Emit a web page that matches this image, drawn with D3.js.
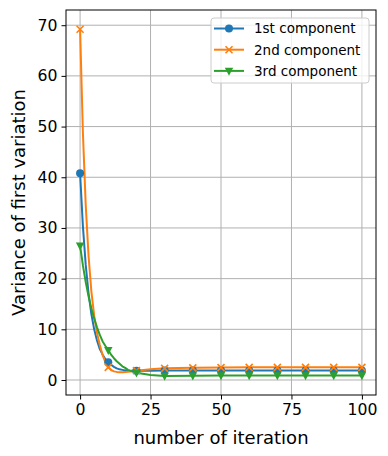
<!DOCTYPE html>
<html>
<head>
<meta charset="utf-8">
<script src="https://cdn.jsdelivr.net/npm/d3@7"></script>
<style>
  body { margin: 0; background: #fff; }
  text { font-family: "DejaVu Sans", sans-serif; fill: #000; }
</style>
</head>
<body>
<svg id="chart" width="388" height="456"></svg>
<script>
// DATA
const iterations = [0, 1, 2, 3, 4, 5, 6, 7, 8, 9, 10, 11, 12, 13, 14, 15, 16, 17, 18, 19, 20, 25, 30, 40, 50, 60, 70, 80, 90, 100];
const first = [40.8, 30.3, 22.7, 17.1, 13.0, 10.0, 7.8, 6.1, 5.0, 4.1, 3.5, 3.0, 2.6, 2.3, 2.1, 2.0, 1.9, 1.85, 1.8, 1.8, 1.8, 1.8, 1.85, 1.85, 1.85, 1.85, 1.85, 1.85, 1.85, 1.85];
const second = [69.2, 48.8, 34.5, 24.5, 17.5, 12.7, 9.3, 6.9, 4.9, 3.5, 2.5, 2.0, 1.7, 1.6, 1.55, 1.55, 1.6, 1.65, 1.7, 1.75, 1.85, 2.1, 2.3, 2.4, 2.45, 2.5, 2.5, 2.5, 2.5, 2.5];
const third = [26.5, 22.6, 19.3, 16.5, 14.1, 12.1, 10.4, 8.9, 7.6, 6.7, 5.9, 5.0, 4.3, 3.7, 3.2, 2.7, 2.4, 2.0, 1.8, 1.6, 1.45, 1.0, 0.8, 0.85, 0.9, 0.9, 0.9, 0.9, 0.9, 0.9];
const seriesNames = ["1st component", "2nd component", "3rd component"];
const xTicks = [0, 25, 50, 75, 100];
const yTicks = [0, 10, 20, 30, 40, 50, 60, 70];

// CANVAS SETUP
const svg = d3.select("#chart");
const margin = { top: 10, right: 12, bottom: 61, left: 66 },
  width = 388 - margin.left - margin.right,
  height = 456 - margin.top - margin.bottom;

const colors = ["#1f77b4", "#ff7f0e", "#2ca02c"];
const markers = ["circle", "x", "tri"];

const series = [first, second, third].map((vals, k) => ({
  name: seriesNames[k],
  color: colors[k],
  marker: markers[k],
  points: iterations.map((it, i) => ({ x: it, y: vals[i] })),
}));

const xScale = d3.scaleLinear().domain([-5, 105]).range([0, width]);
const yScale = d3.scaleLinear().domain([-2.96, 73]).range([height, 0]);

const g = svg.append("g").attr("transform", `translate(${margin.left},${margin.top})`);

// GRID
g.append("g")
  .selectAll("line")
  .data(xTicks)
  .join("line")
  .attr("x1", (d) => xScale(d))
  .attr("x2", (d) => xScale(d))
  .attr("y1", 0)
  .attr("y2", height)
  .attr("stroke", "#b0b0b0")
  .attr("stroke-width", 1);

g.append("g")
  .selectAll("line")
  .data(yTicks)
  .join("line")
  .attr("x1", 0)
  .attr("x2", width)
  .attr("y1", (d) => yScale(d))
  .attr("y2", (d) => yScale(d))
  .attr("stroke", "#b0b0b0")
  .attr("stroke-width", 1);

// AXES
const xAxis = g.append("g")
  .attr("transform", `translate(0,${height})`)
  .call(d3.axisBottom(xScale).tickValues(xTicks).tickSize(4.5).tickPadding(4));
const yAxis = g.append("g")
  .call(d3.axisLeft(yScale).tickValues(yTicks).tickSize(4.5).tickPadding(4));

[xAxis, yAxis].forEach((ax) => {
  ax.select(".domain").remove();
  ax.selectAll("line").attr("stroke", "#000").attr("stroke-width", 1);
  ax.selectAll("text")
    .style("font-family", "DejaVu Sans")
    .style("font-size", "15.7px")
    .attr("fill", "#000");
});

// LINES
const line = d3.line()
  .x((d) => xScale(d.x))
  .y((d) => yScale(d.y));

const plot = g.append("g");

plot.selectAll("path.series")
  .data(series)
  .join("path")
  .attr("class", "series")
  .attr("fill", "none")
  .attr("stroke", (d) => d.color)
  .attr("stroke-width", 2)
  .attr("stroke-linejoin", "round")
  .attr("d", (d) => line(d.points));

function drawMarker(sel, type, color) {
  if (type === "circle") {
    sel.append("circle").attr("r", 4).attr("fill", color);
  } else if (type === "x") {
    sel.append("path")
      .attr("d", "M-3.5,-3.5L3.5,3.5M-3.5,3.5L3.5,-3.5")
      .attr("stroke", color)
      .attr("stroke-width", 1.6)
      .attr("fill", "none");
  } else {
    sel.append("path")
      .attr("d", "M-4.2,-3.2L4.2,-3.2L0,4.8Z")
      .attr("fill", color);
  }
}

series.forEach((s) => {
  const pts = s.points.filter((p) => p.x % 10 === 0);
  plot.append("g")
    .selectAll("g")
    .data(pts)
    .join("g")
    .attr("transform", (d) => `translate(${xScale(d.x)},${yScale(d.y)})`)
    .each(function () {
      drawMarker(d3.select(this), s.marker, s.color);
    });
});

// SPINES
g.append("rect")
  .attr("width", width)
  .attr("height", height)
  .attr("fill", "none")
  .attr("stroke", "#000")
  .attr("stroke-width", 1);

// LABELS
svg.append("text")
  .attr("x", margin.left + width / 2)
  .attr("y", 444)
  .attr("text-anchor", "middle")
  .style("font-size", "18px")
  .text("number of iteration");

svg.append("text")
  .attr("transform", `translate(25,${margin.top + height / 2}) rotate(-90)`)
  .attr("text-anchor", "middle")
  .style("font-size", "18px")
  .text("Variance of first variation");

// LEGEND
const legend = svg.append("g").attr("transform", "translate(211,18)");
legend.append("rect")
  .attr("width", 158)
  .attr("height", 65)
  .attr("rx", 3)
  .attr("fill", "#fff")
  .attr("fill-opacity", 0.8)
  .attr("stroke", "#cccccc")
  .attr("stroke-width", 1);

const rows = legend.selectAll("g.row")
  .data(series)
  .join("g")
  .attr("class", "row")
  .attr("transform", (d, i) => `translate(0,${10.5 + i * 21.2})`);

rows.append("line")
  .attr("x1", 3)
  .attr("x2", 33)
  .attr("stroke", (d) => d.color)
  .attr("stroke-width", 2);

rows.append("g")
  .attr("transform", "translate(18,0)")
  .each(function (d) {
    drawMarker(d3.select(this), d.marker, d.color);
  });

rows.append("text")
  .attr("x", 43)
  .attr("dy", "0.36em")
  .style("font-size", "13.5px")
  .text((d) => d.name);
</script>
</body>
</html>
